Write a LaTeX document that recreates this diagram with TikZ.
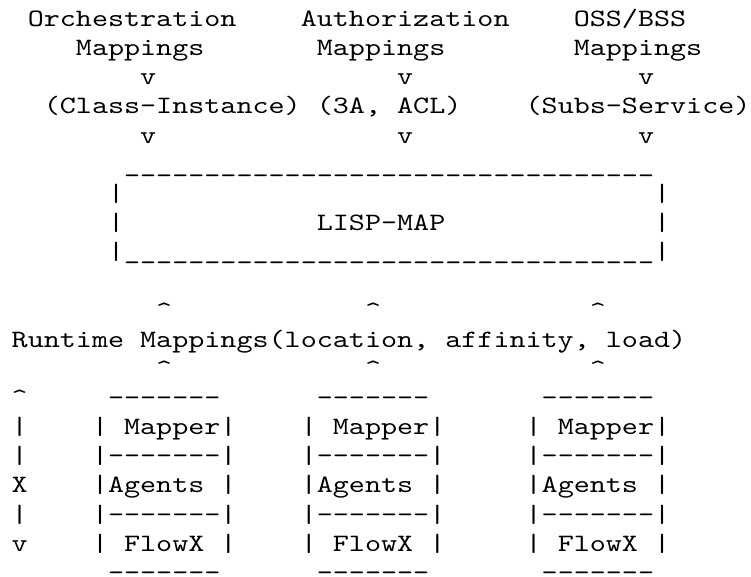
\documentclass[tikz,border=0pt]{standalone}
\usepackage{fontspec}
\usepackage{graphicx}
% typewriter face for the character-cell drawing
\newfontfamily\asciifont{lmmono10-regular}[Extension=.otf]

% runs of repeated characters, kept as separate glyphs (no -- ligature)
\newcommand\hyph[1]{\foreach\k in {1,...,#1}{-\kern0pt}}
\newcommand\under[1]{\foreach\k in {1,...,#1}{\textunderscore\kern0pt}}
\newcommand\caret{\textasciicircum}

% horizontal stretch that puts one character on each 16.06pt cell
\newlength\asciiw
\newsavebox\asciibox
\AtBeginDocument{%
  \sbox\asciibox{\asciifont\fontsize{25pt}{29pt}\selectfont M}%
  \setlength\asciiw{\wd\asciibox}%
  \pgfmathsetmacro\asx{16.06/\asciiw}%
  \global\let\asx\asx}

\tikzset{
  ascii/.style={anchor=base west, inner sep=0pt, outer sep=0pt, text=black,
    font={\asciifont\fontsize{25pt}{29pt}\selectfont}}
}
% \asc{name}{column}{row}{text}: one run of characters on the 16.06 x 29.15 grid
\newcommand\asc[4]{%
  \node[ascii] (#1) at ({11.7+16.06*(#2)},{26.5+29.15*((#3)-1)}) {\scalebox{\asx}[1]{#4}};}

\begin{document}
\begin{tikzpicture}[x=1pt,y=-1pt]
  \fill[white] (0,0) rectangle (751,577);
  \useasboundingbox (0,0) rectangle (751,577);

  % mapping sources
  \asc{orch}{1}{1}{Orchestration}
  \asc{auth}{18}{1}{Authorization}
  \asc{oss}{35}{1}{OSS/BSS}
  \asc{orchm}{4}{2}{Mappings}
  \asc{authm}{19}{2}{Mappings}
  \asc{ossm}{35}{2}{Mappings}
  \asc{va1}{8}{3}{v}
  \asc{vb1}{24}{3}{v}
  \asc{vc1}{39}{3}{v}
  \asc{cls}{2}{4}{(Class-Instance)}
  \asc{acl}{19}{4}{(3A, ACL)}
  \asc{subs}{32}{4}{(Subs-Service)}
  \asc{va2}{8}{5}{v}
  \asc{vb2}{24}{5}{v}
  \asc{vc2}{39}{5}{v}

  % LISP-MAP box
  \asc{top}{7}{6}{\under{33}}
  \asc{l7}{6}{7}{|}
  \asc{r7}{40}{7}{|}
  \asc{l8}{6}{8}{|}
  \asc{lispmap}{19}{8}{LISP-MAP}
  \asc{r8}{40}{8}{|}
  \asc{bottom}{6}{9}{|\under{33}|}

  % runtime mappings
  \asc{ua1}{9}{11}{\caret}
  \asc{ub1}{22}{11}{\caret}
  \asc{uc1}{36}{11}{\caret}
  \asc{runtime}{0}{12}{Runtime Mappings(location, affinity, load)}
  \asc{ua2}{9}{13}{\caret}
  \asc{ub2}{22}{13}{\caret}
  \asc{uc2}{36}{13}{\caret}

  % vertical axis on the left
  \asc{axup}{0}{14}{\caret}
  \asc{ax15}{0}{15}{|}
  \asc{ax16}{0}{16}{|}
  \asc{axx}{0}{17}{X}
  \asc{ax18}{0}{18}{|}
  \asc{axdown}{0}{19}{v}

  % three mapper stacks
  \foreach \nm/\c in {a/5,b/18,c/32}{
    \asc{top\nm}{\c+1}{14}{\hyph{7}}
    \asc{mapper\nm}{\c}{15}{| Mapper|}
    \asc{sepa\nm}{\c}{16}{|\hyph{7}|}
    \asc{agents\nm}{\c}{17}{|Agents |}
    \asc{sepb\nm}{\c}{18}{|\hyph{7}|}
    \asc{flowx\nm}{\c}{19}{| FlowX |}
    \asc{bot\nm}{\c+1}{20}{\hyph{7}}
  }
\end{tikzpicture}
\end{document}
